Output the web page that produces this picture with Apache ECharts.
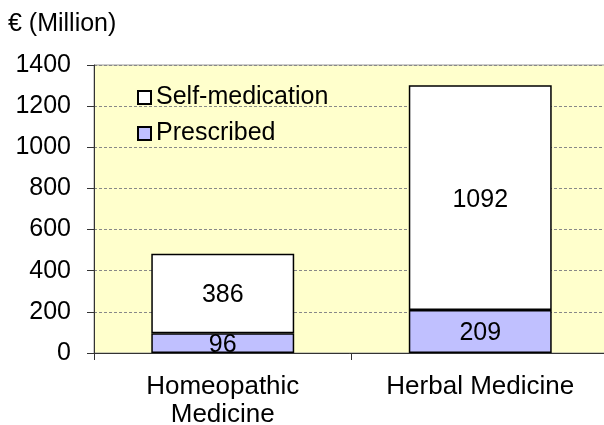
<!DOCTYPE html>
<html><head><meta charset="utf-8">
<script src="https://cdn.jsdelivr.net/npm/echarts@6/dist/echarts.min.js"></script>
<style>html,body{margin:0;padding:0;background:#fff}#c{width:604px;height:425px}</style>
</head><body><div id="c"></div>
<script>
var categories = ['Homeopathic\nMedicine', 'Herbal Medicine'];
var prescribed = [96, 209];
var selfMedication = [386, 1092];
var yTicks = [0, 200, 400, 600, 800, 1000, 1200, 1400];
var unitLabel = '€ (Million)';

var font = 'Liberation Sans, Arial, sans-serif';
var chart = echarts.init(document.getElementById('c'));
chart.setOption({
  animation: false,
  textStyle: {fontFamily: font},
  title: {text: unitLabel, left: 3, top: 7, textStyle: {fontFamily: font, fontSize: 25, fontWeight: 'normal', color: '#000'}},
  grid: {left: 94, top: 65, width: 515, height: 288, containLabel: false, outerBoundsMode: 'none',
         show: true, backgroundColor: '#FFFFCC', borderColor: '#999', borderWidth: 1},
  legend: {
    data: ['Self-medication', 'Prescribed'],
    orient: 'vertical', left: 132, top: 80, itemWidth: 13, itemHeight: 13, itemGap: 11,
    icon: 'rect',
    textStyle: {fontFamily: font, fontSize: 25, color: '#000'}
  },
  xAxis: {
    type: 'category', data: categories,
    axisLine: {lineStyle: {color: '#333', width: 1}},
    axisTick: {show: true, length: 7, lineStyle: {color: '#333'}},
    axisLabel: {fontFamily: font, fontSize: 26, color: '#000', margin: 20, lineHeight: 28}
  },
  yAxis: {
    type: 'value', min: yTicks[0], max: yTicks[yTicks.length-1], interval: 200,
    axisLine: {show: true, lineStyle: {color: '#333', width: 1}},
    axisTick: {show: true, length: 7, lineStyle: {color: '#333'}},
    axisLabel: {fontFamily: font, fontSize: 25, color: '#000', margin: 23, formatter: function(v){return String(v);}},
    splitLine: {show: true, lineStyle: {color: '#888', width: 1, type: [3, 2]}}
  },
  series: [
    {name: 'Prescribed', type: 'bar', stack: 'a', data: prescribed, barWidth: '55.5%',
     itemStyle: {color: '#C0C0FF', borderColor: '#000', borderWidth: 1.5},
     label: {show: true, position: 'inside', offset: [0, 2], fontFamily: font, fontSize: 25, color: '#000'}},
    {name: 'Self-medication', type: 'bar', stack: 'a', data: selfMedication, barWidth: '55.5%',
     itemStyle: {color: '#FFFFFF', borderColor: '#000', borderWidth: 1.5},
     label: {show: true, position: 'inside', offset: [0, 2], fontFamily: font, fontSize: 25, color: '#000'}}
  ]
});
</script></body></html>
